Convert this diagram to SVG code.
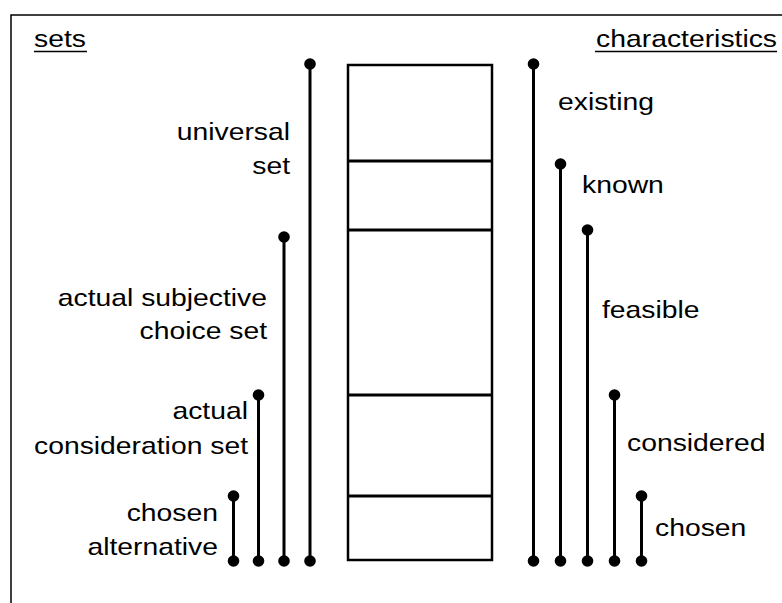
<svg xmlns="http://www.w3.org/2000/svg" width="782" height="603" viewBox="0 0 782 603">
  <style>
    .lbl { font-family: "Liberation Sans", Arial, sans-serif; font-size: 24px; fill: #000; }
    .end { text-anchor: end; }
    .bar { stroke: #000; stroke-width: 3; fill: none; }
    .dot { fill: #000; }
    .frame { stroke: #000; stroke-width: 1.5; fill: none; }
    .box { stroke: #000; stroke-width: 2.5; fill: #fff; }
    .div { stroke: #000; stroke-width: 3; }
  </style>
  <rect width="782" height="603" fill="#fff"/>
  <path class="frame" d="M11,603 V15 H782"/>

  <!-- headings -->
  <g id="head-sets">
    <text class="lbl" transform="translate(34,46.5) scale(1.18,1)">sets</text>
    <line x1="34" y1="51.5" x2="87" y2="51.5" stroke="#000" stroke-width="1.6"/>
  </g>
  <g id="head-characteristics">
    <text class="lbl end" transform="translate(777,46.5) scale(1.18,1)">characteristics</text>
    <line x1="595" y1="51.5" x2="777" y2="51.5" stroke="#000" stroke-width="1.6"/>
  </g>

  <!-- stacked column of nested sets -->
  <g id="stack">
    <rect class="box" x="348" y="65" width="144" height="495"/>
    <line class="div" x1="348" y1="161" x2="492" y2="161"/>
    <line class="div" x1="348" y1="230" x2="492" y2="230"/>
    <line class="div" x1="348" y1="395" x2="492" y2="395"/>
    <line class="div" x1="348" y1="496" x2="492" y2="496"/>
  </g>

  <!-- range bars -->
  <g id="connectors">
    <g id="bar-universal">
      <line class="bar" x1="310" y1="64" x2="310" y2="561"/>
      <circle class="dot" cx="310" cy="64" r="5.8"/>
      <circle class="dot" cx="310" cy="561" r="5.8"/>
    </g>
    <g id="bar-subjective">
      <line class="bar" x1="284" y1="237" x2="284" y2="561"/>
      <circle class="dot" cx="284" cy="237" r="5.8"/>
      <circle class="dot" cx="284" cy="561" r="5.8"/>
    </g>
    <g id="bar-consideration">
      <line class="bar" x1="258.5" y1="395" x2="258.5" y2="561"/>
      <circle class="dot" cx="258.5" cy="395" r="5.8"/>
      <circle class="dot" cx="258.5" cy="561" r="5.8"/>
    </g>
    <g id="bar-chosen-alt">
      <line class="bar" x1="233.5" y1="496" x2="233.5" y2="561"/>
      <circle class="dot" cx="233.5" cy="496" r="5.8"/>
      <circle class="dot" cx="233.5" cy="561" r="5.8"/>
    </g>
    <g id="bar-existing">
      <line class="bar" x1="533.5" y1="64" x2="533.5" y2="561"/>
      <circle class="dot" cx="533.5" cy="64" r="5.8"/>
      <circle class="dot" cx="533.5" cy="561" r="5.8"/>
    </g>
    <g id="bar-known">
      <line class="bar" x1="560.5" y1="164" x2="560.5" y2="561"/>
      <circle class="dot" cx="560.5" cy="164" r="5.8"/>
      <circle class="dot" cx="560.5" cy="561" r="5.8"/>
    </g>
    <g id="bar-feasible">
      <line class="bar" x1="587.5" y1="230" x2="587.5" y2="561"/>
      <circle class="dot" cx="587.5" cy="230" r="5.8"/>
      <circle class="dot" cx="587.5" cy="561" r="5.8"/>
    </g>
    <g id="bar-considered">
      <line class="bar" x1="614.5" y1="395" x2="614.5" y2="561"/>
      <circle class="dot" cx="614.5" cy="395" r="5.8"/>
      <circle class="dot" cx="614.5" cy="561" r="5.8"/>
    </g>
    <g id="bar-chosen">
      <line class="bar" x1="641.5" y1="496" x2="641.5" y2="561"/>
      <circle class="dot" cx="641.5" cy="496" r="5.8"/>
      <circle class="dot" cx="641.5" cy="561" r="5.8"/>
    </g>
  </g>

  <!-- set labels (left) -->
  <g id="label-universal">
    <text class="lbl end" transform="translate(290,140) scale(1.18,1)">universal</text>
    <text class="lbl end" transform="translate(290,174) scale(1.18,1)">set</text>
  </g>
  <g id="label-subjective">
    <text class="lbl end" transform="translate(267,306) scale(1.18,1)">actual subjective</text>
    <text class="lbl end" transform="translate(267,339) scale(1.18,1)">choice set</text>
  </g>
  <g id="label-consideration">
    <text class="lbl end" transform="translate(248,419) scale(1.18,1)">actual</text>
    <text class="lbl end" transform="translate(248,454) scale(1.18,1)">consideration set</text>
  </g>
  <g id="label-chosen-alt">
    <text class="lbl end" transform="translate(218,521) scale(1.18,1)">chosen</text>
    <text class="lbl end" transform="translate(218,555) scale(1.18,1)">alternative</text>
  </g>

  <!-- characteristic labels (right) -->
  <g id="label-existing"><text class="lbl" transform="translate(558,110) scale(1.18,1)">existing</text></g>
  <g id="label-known"><text class="lbl" transform="translate(582,193) scale(1.18,1)">known</text></g>
  <g id="label-feasible"><text class="lbl" transform="translate(602,318) scale(1.18,1)">feasible</text></g>
  <g id="label-considered"><text class="lbl" transform="translate(627,451) scale(1.18,1)">considered</text></g>
  <g id="label-chosen"><text class="lbl" transform="translate(655,536) scale(1.18,1)">chosen</text></g>
</svg>
